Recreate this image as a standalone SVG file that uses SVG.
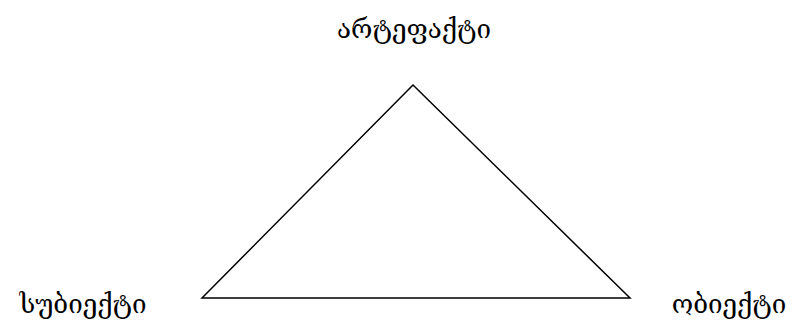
<svg xmlns="http://www.w3.org/2000/svg" width="800" height="329" viewBox="0 0 800 329">
<style>
.lbl{font-family:"DejaVu Serif",serif;font-size:26px;fill:#000}
.edge{stroke:#000;stroke-width:1.5;fill:none}
</style>
<rect width="800" height="329" fill="#fff"/>
<g id="connectors">
<path class="edge" d="M413,85 L202,298 L630,298 Z"/>
</g>
<g id="artifact"><text class="lbl" x="414" y="38" text-anchor="middle">არტეფაქტი</text></g>
<g id="subject"><text class="lbl" x="83" y="313" text-anchor="middle">სუბიექტი</text></g>
<g id="object"><text class="lbl" x="729" y="313" text-anchor="middle">ობიექტი</text></g>
</svg>
